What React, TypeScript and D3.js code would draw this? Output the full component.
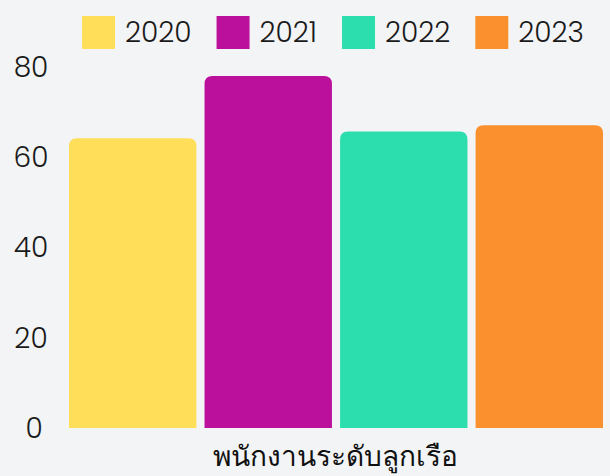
import React from 'react';
import * as d3 from 'd3';

const categories = ['พนักงานระดับลูกเรือ'];
const years = ['2020', '2021', '2022', '2023'];
const values = [64.2, 78.0, 65.7, 67.1];
const colors = ['#FFDE59', '#BA109B', '#2CDEAE', '#FA902E'];
const yTicks = [0, 20, 40, 60, 80];

const W = 610;
const H = 476;
const font = 'Poppins, Lato, "Noto Sans", sans-serif';
const fs = 28;

const measure = (s: string, size: number) => {
  const ctx = document.createElement('canvas').getContext('2d');
  if (!ctx) return s.length * size * 0.6;
  ctx.font = `300 ${size}px ${font}`;
  return ctx.measureText(s).width;
};

const App = () => {
  const y = d3.scaleLinear().domain([0, 80]).range([428, 67]);
  const x0 = d3.scaleBand().domain(categories).range([61, 611]).paddingOuter(0.015);
  const x1 = d3.scaleBand().domain(years).range([0, x0.bandwidth()]).paddingInner(0.06);

  const barPath = (x: number, w: number, top: number, bottom: number, r: number) =>
    `M${x},${bottom}V${top + r}Q${x},${top} ${x + r},${top}H${x + w - r}Q${x + w},${top} ${x + w},${top + r}V${bottom}Z`;

  // legend layout from text widths
  const box = 33, boxGap = 10, itemGap = 25;
  const widths = years.map(yr => box + boxGap + measure(yr, fs));
  const total = d3.sum(widths) + itemGap * (years.length - 1);
  let cursor = 333 - total / 2;
  const legendX = widths.map(w => {
    const x = cursor;
    cursor += w + itemGap;
    return x;
  });

  return (
    <svg width={W} height={H} style={{ position: 'absolute', left: 0, top: 0, background: '#F3F4F6' }}>
      <rect width={W} height={H} fill="#F3F4F6" />
      {/* legend */}
      {years.map((yr, i) => (
        <g key={yr} transform={`translate(${legendX[i]},16)`}>
          <rect width={box} height={box} fill={colors[i]} />
          <text x={box + boxGap} y={16.5} dy="0.35em" fontSize={fs} fontWeight={300} fontFamily={font} fill="#1a1a1a">{yr}</text>
        </g>
      ))}
      {/* y axis labels */}
      {yTicks.map(t => (
        <text key={t} x={t === 0 ? 34 : 31} y={y(t)} dy="0.35em" textAnchor="middle" fontSize={fs} fontWeight={300} fontFamily={font} fill="#1a1a1a">
          {t}
        </text>
      ))}
      {/* bars */}
      {categories.map(c => (
        <g key={c} transform={`translate(${x0(c)},0)`}>
          {years.map((yr, i) => (
            <path key={yr} d={barPath(x1(yr)!, x1.bandwidth(), y(values[i]), y(0), 8)} fill={colors[i]} />
          ))}
          <text x={x0.bandwidth() / 2} y={466} textAnchor="middle" fontSize={28} fontFamily={font} fill="#111">
            {c}
          </text>
        </g>
      ))}
    </svg>
  );
};

export default App;
